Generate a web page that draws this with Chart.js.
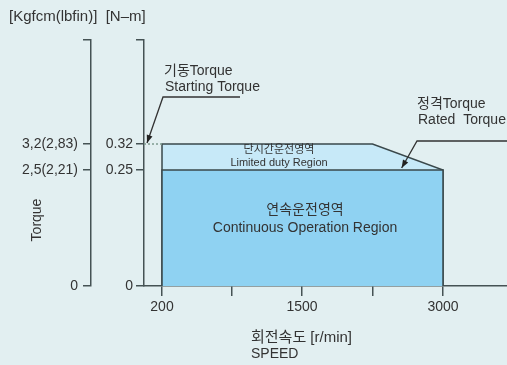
<!DOCTYPE html>
<html>
<head>
<meta charset="utf-8">
<script src="https://cdn.jsdelivr.net/npm/chart.js@4/dist/chart.umd.min.js"></script>
<style>
  html, body { margin: 0; padding: 0; background: #e2eff1; }
  canvas { display: block; }
</style>
</head>
<body>
<canvas id="c" width="507" height="365"></canvas>
<script>
// ---------- data ----------
const speedTickValues = [200, 850, 1500, 2250, 3000];
const speedTickLabels = ['200', '', '1500', '', '3000'];
const torqueTickValues = [0, 0.25, 0.32, 0.4];
const torqueTickLabelsNm = ['0', '0.25', '0.32', ''];
const torqueTickLabelsKgf = ['0', '2,5(2,21)', '3,2(2,83)', ''];

const limitedSpeed = [200, 200, 2250, 3000, 3000];
const limitedTorque = [0, 0.32, 0.32, 0.25, 0];
const continuousSpeed = [200, 200, 3000, 3000];
const continuousTorque = [0, 0.25, 0.25, 0];
const startGuideSpeed = [0, 200];
const startGuideTorque = [0.32, 0.32];

// ---------- schematic (piecewise) axis layout ----------
const BREAKS = {
  x:  { values: [0, 200, 1500, 3000, 3500], decimals: [0, 0.0496, 0.4353, 0.8237, 1] },
  y:  { values: [0, 0.25, 0.32, 0.4], decimals: [0, 0.4715, 0.5772, 1] },
  y2: { values: [0, 0.25, 0.32, 0.4], decimals: [0, 0.4715, 0.5772, 1] }
};
function interp(v, a, b) {
  if (v <= a[0]) return b[0] + (v - a[0]) * (b[1] - b[0]) / (a[1] - a[0]);
  for (let i = 1; i < a.length; i++) {
    if (v <= a[i]) return b[i-1] + (v - a[i-1]) * (b[i] - b[i-1]) / (a[i] - a[i-1]);
  }
  const n = a.length - 1;
  return b[n] + (v - a[n]) * (b[n] - b[n-1]) / (a[n] - a[n-1]);
}
class SchematicScale extends Chart.LinearScale {
  getPixelForValue(value) {
    const b = BREAKS[this.id];
    return this.getPixelForDecimal(interp(value, b.values, b.decimals));
  }
  getValueForPixel(pixel) {
    const b = BREAKS[this.id];
    return interp(this.getDecimalForPixel(pixel), b.decimals, b.values);
  }
}
SchematicScale.id = 'schematic';
SchematicScale.defaults = Chart.LinearScale.defaults;
Chart.register(SchematicScale);

// ---------- styles ----------
const FONT = "'Liberation Sans', Arial, 'Noto Sans CJK KR', sans-serif";
const TEXT = '#333';
const AXIS = '#455254';
const EDGE = '#3a484b';

const pts = (xs, ys) => xs.map((x, i) => ({ x: x, y: ys[i] }));

const bgPlugin = {
  id: 'bg',
  beforeDraw(chart) {
    const ctx = chart.ctx;
    ctx.save();
    ctx.fillStyle = '#e2eff1';
    ctx.fillRect(0, 0, chart.width, chart.height);
    ctx.restore();
  }
};

function arrowHead(ctx, fx, fy, tx, ty) {
  const ang = Math.atan2(ty - fy, tx - fx);
  const L = 8, W = 3;
  ctx.beginPath();
  ctx.moveTo(tx, ty);
  ctx.lineTo(tx - L * Math.cos(ang) + W * Math.sin(ang), ty - L * Math.sin(ang) - W * Math.cos(ang));
  ctx.lineTo(tx - L * Math.cos(ang) - W * Math.sin(ang), ty - L * Math.sin(ang) + W * Math.cos(ang));
  ctx.closePath();
  ctx.fill();
}

const annotPlugin = {
  id: 'annot',
  afterDatasetsDraw(chart) {
    const ctx = chart.ctx;
    const xs = chart.scales.x, ys = chart.scales.y;
    ctx.save();
    ctx.fillStyle = TEXT;
    ctx.textBaseline = 'middle';

    // header
    ctx.font = '15px ' + FONT;
    ctx.textAlign = 'left';
    ctx.fillText('[Kgfcm(lbfin)]  [N\u2013m]', 9, 17);

    // region labels
    ctx.textAlign = 'center';
    ctx.font = '11px ' + FONT;
    ctx.fillText('단시간운전영역', 279, 150);
    ctx.fillText('Limited duty Region', 279, 163);
    ctx.font = '14px ' + FONT;
    ctx.fillText('연속운전영역', 305, 210);
    ctx.fillText('Continuous Operation Region', 305, 228);

    // callouts
    ctx.textAlign = 'left';
    ctx.font = '14px ' + FONT;
    ctx.fillText('기동Torque', 164, 71);
    ctx.fillText('Starting Torque', 165, 87);
    ctx.fillText('정격Torque', 417, 104);
    ctx.fillText('Rated  Torque', 418, 120);

    // x title
    ctx.font = '15px ' + FONT;
    ctx.fillText('회전속도 [r/min]', 251, 338);
    ctx.font = '14px ' + FONT;
    ctx.fillText('SPEED', 251, 354);

    // y title (rotated)
    ctx.save();
    ctx.translate(37, 220);
    ctx.rotate(-Math.PI / 2);
    ctx.textAlign = 'center';
    ctx.fillText('Torque', 0, 0);
    ctx.restore();

    // leader lines
    ctx.strokeStyle = '#333';
    ctx.fillStyle = '#222';
    ctx.lineWidth = 1.3;
    const sTipX = xs.getPixelForValue(0) + 3, sTipY = ys.getPixelForValue(0.32) - 1;
    ctx.beginPath();
    ctx.moveTo(240, 97); ctx.lineTo(163, 97); ctx.lineTo(sTipX, sTipY);
    ctx.stroke();
    arrowHead(ctx, 163, 97, sTipX, sTipY);

    const rTipX = xs.getPixelForValue(2560), rTipY = ys.getPixelForValue(0.25) - 2;
    ctx.beginPath();
    ctx.moveTo(507, 141); ctx.lineTo(417, 141); ctx.lineTo(rTipX, rTipY);
    ctx.stroke();
    arrowHead(ctx, 417, 141, rTipX, rTipY);

    ctx.restore();
  }
};

const tickFont = { family: FONT, size: 14 };

new Chart(document.getElementById('c'), {
  type: 'line',
  data: {
    datasets: [
      {
        label: 'Limited duty Region',
        data: pts(limitedSpeed, limitedTorque),
        borderColor: EDGE, borderWidth: 1.5,
        backgroundColor: '#c7e9f8',
        fill: 'origin', pointRadius: 0, tension: 0, order: 2
      },
      {
        label: 'Continuous Operation Region',
        data: pts(continuousSpeed, continuousTorque),
        borderColor: EDGE, borderWidth: 1.5,
        backgroundColor: '#8fd2f2',
        fill: 'origin', pointRadius: 0, tension: 0, order: 1
      },
      {
        label: 'Starting torque guide',
        data: pts(startGuideSpeed, startGuideTorque),
        borderColor: '#7f9c90', borderWidth: 1.5, borderDash: [2, 2],
        fill: false, pointRadius: 0, order: 0
      }
    ]
  },
  options: {
    responsive: false,
    animation: false,
    devicePixelRatio: 1,
    layout: { padding: { top: 40, left: 0, right: 0, bottom: 0 } },
    plugins: { legend: { display: false }, tooltip: { enabled: false }, title: { display: false } },
    scales: {
      x: {
        type: 'schematic', position: 'bottom', min: 0, max: 3500,
        border: { color: AXIS, width: 1.5 },
        grid: { drawOnChartArea: false, drawTicks: true, tickLength: 10, color: AXIS, lineWidth: 1.5 },
        afterBuildTicks: (s) => { s.ticks = speedTickValues.map(v => ({ value: v })); },
        ticks: {
          autoSkip: false, maxRotation: 0, padding: 3, color: TEXT, font: tickFont,
          callback: (v) => { const i = speedTickValues.indexOf(v); return i >= 0 ? speedTickLabels[i] : ''; }
        },
        afterFit: (s) => { s.height = 79; }
      },
      y: {
        type: 'schematic', position: 'left', min: 0, max: 0.4, weight: 0,
        border: { color: AXIS, width: 1.5 },
        grid: { drawOnChartArea: false, drawTicks: true, tickLength: 8, color: AXIS, lineWidth: 1.5 },
        afterBuildTicks: (s) => { s.ticks = torqueTickValues.map(v => ({ value: v })); },
        ticks: {
          autoSkip: false, padding: 3, color: TEXT, font: tickFont,
          callback: (v) => { const i = torqueTickValues.indexOf(v); return i >= 0 ? torqueTickLabelsNm[i] : ''; }
        },
        afterFit: (s) => { s.width = 53; }
      },
      y2: {
        type: 'schematic', position: 'left', min: 0, max: 0.4, weight: 1,
        border: { color: AXIS, width: 1.5 },
        grid: { drawOnChartArea: false, drawTicks: true, tickLength: 8, color: AXIS, lineWidth: 1.5 },
        afterBuildTicks: (s) => { s.ticks = torqueTickValues.map(v => ({ value: v })); },
        ticks: {
          autoSkip: false, padding: 5, color: TEXT, font: tickFont,
          callback: (v) => { const i = torqueTickValues.indexOf(v); return i >= 0 ? torqueTickLabelsKgf[i] : ''; }
        },
        afterFit: (s) => { s.width = 91; }
      }
    }
  },
  plugins: [bgPlugin, annotPlugin]
});
</script>
</body>
</html>
